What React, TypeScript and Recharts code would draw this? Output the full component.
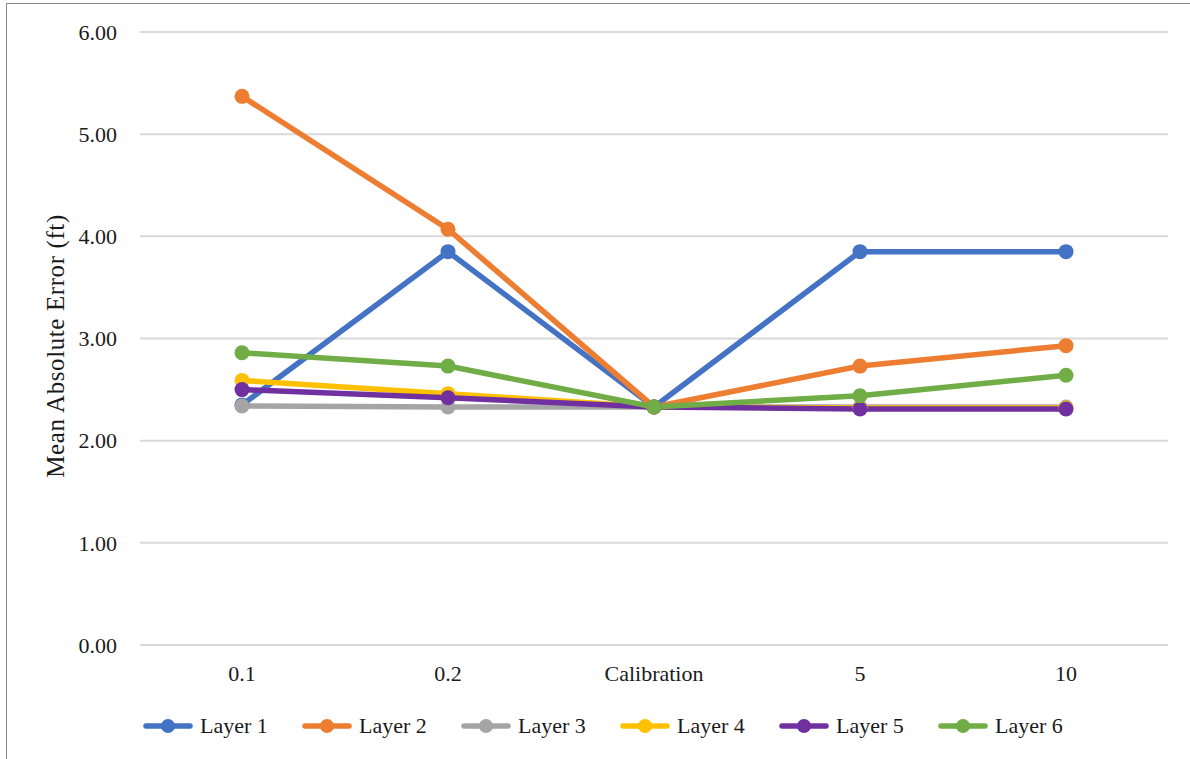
import { LineChart, Line, XAxis, YAxis, CartesianGrid, Legend } from 'recharts'

const categories = ['0.1', '0.2', 'Calibration', '5', '10']

const layer1 = [2.35, 3.85, 2.33, 3.85, 3.85]
const layer2 = [5.37, 4.07, 2.33, 2.73, 2.93]
const layer3 = [2.34, 2.33, 2.33, 2.33, 2.33]
const layer4 = [2.59, 2.46, 2.33, 2.32, 2.32]
const layer5 = [2.5, 2.42, 2.33, 2.31, 2.31]
const layer6 = [2.86, 2.73, 2.33, 2.44, 2.64]

const yTicks = [0, 1, 2, 3, 4, 5, 6]

const series = [
  { key: 'Layer 1', values: layer1, color: '#4472C4' },
  { key: 'Layer 2', values: layer2, color: '#ED7D31' },
  { key: 'Layer 3', values: layer3, color: '#A5A5A5' },
  { key: 'Layer 4', values: layer4, color: '#FFC000' },
  { key: 'Layer 5', values: layer5, color: '#7030A0' },
  { key: 'Layer 6', values: layer6, color: '#70AD47' },
]

const data = categories.map((name, i) => {
  const row: Record<string, string | number> = { name }
  series.forEach((s) => {
    row[s.key] = s.values[i]
  })
  return row
})

const FONT = '"Liberation Serif", "Times New Roman", serif'
const TEXT = '#1a1a1a'

// legend: line with a dot in the middle, then the label
const renderLegend = (props: any) => {
  const payload = props.payload || []
  return (
    <div style={{ display: 'flex', paddingLeft: 136, paddingTop: 1, height: 60, boxSizing: 'border-box' }}>
      {payload.map((entry: any) => (
        <div key={entry.value} style={{ display: 'flex', alignItems: 'center', width: 159 }}>
          <svg width={50} height={16}>
            <line x1={3} y1={8} x2={47} y2={8} stroke={entry.color} strokeWidth={5.5} strokeLinecap="round" />
            <circle cx={25} cy={8} r={7} fill={entry.color} />
          </svg>
          <span style={{ marginLeft: 7, fontFamily: FONT, fontSize: 22, lineHeight: '22px', color: TEXT }}>
            {entry.value}
          </span>
        </div>
      ))}
    </div>
  )
}

const renderYLabel = (props: any) => {
  const vb = props.viewBox
  const cx = 48
  const cy = vb.y + vb.height / 2 + 7.5
  return (
    <text
      x={cx}
      y={cy}
      transform={`rotate(-90, ${cx}, ${cy})`}
      textAnchor="middle"
      dominantBaseline="central"
      fontFamily={FONT}
      fontSize={25}
      letterSpacing={0.6}
      fill={TEXT}
    >
      Mean Absolute Error (ft)
    </text>
  )
}

export default function App() {
  return (
    <div
      style={{
        position: 'absolute',
        left: 6,
        top: 3,
        borderLeft: '1px solid #8a8a8a',
        borderTop: '1px solid #8a8a8a',
        background: '#fff',
      }}
    >
      <LineChart width={1183} height={755} data={data} margin={{ top: 28, right: 22, left: 0, bottom: 4 }}>
        <CartesianGrid vertical={false} stroke="#D9D9D9" strokeWidth={2} />
        <XAxis
          dataKey="name"
          axisLine={false}
          tickLine={false}
          tickSize={0}
          tickMargin={20}
          height={50}
          padding={{ left: 102, right: 102 }}
          tick={{ fill: TEXT, fontSize: 22, fontFamily: FONT }}
        />
        <YAxis
          domain={[0, 6]}
          ticks={yTicks}
          axisLine={false}
          tickLine={false}
          tickSize={0}
          tickMargin={23}
          width={133}
          tickFormatter={(v: number) => v.toFixed(2)}
          tick={{ fill: TEXT, fontSize: 22, fontFamily: FONT }}
          label={{ content: renderYLabel }}
        />
        <Legend verticalAlign="bottom" height={60} content={renderLegend} />
        {series.map((s) => (
          <Line
            key={s.key}
            dataKey={s.key}
            stroke={s.color}
            strokeWidth={5.5}
            dot={{ r: 7.5, fill: s.color, stroke: s.color, strokeWidth: 0 }}
            activeDot={false}
            isAnimationActive={false}
          />
        ))}
      </LineChart>
    </div>
  )
}
